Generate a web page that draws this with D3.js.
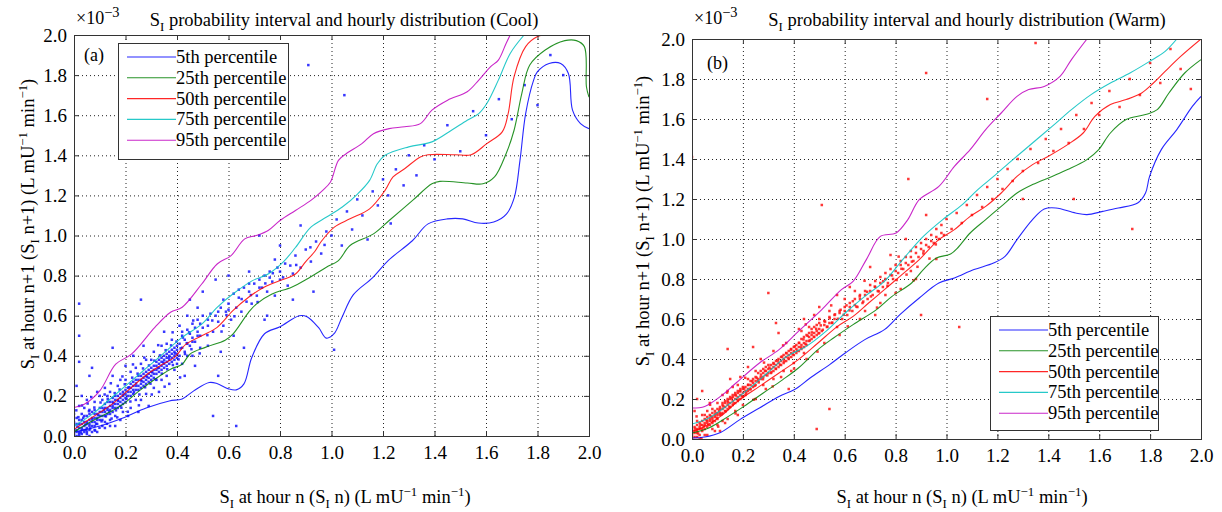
<!DOCTYPE html>
<html>
<head>
<meta charset="utf-8">
<script src="https://cdn.jsdelivr.net/npm/d3@7"></script>
<style>
  body { margin: 0; background: #fff; }
</style>
</head>
<body>
<div id="chart"></div>
<script>
// axis ticks (x10^-3)
var ticks = [0, 0.2, 0.4, 0.6, 0.8, 1.0, 1.2, 1.4, 1.6, 1.8, 2.0];
var seriesNames = ["5th percentile", "25th percentile", "50th percentile", "75th percentile", "95th percentile"];

// Cool season percentile curves [x, y]
var coolP5 = [[0,0.02],[0.10,0.05],[0.19,0.09],[0.28,0.14],[0.37,0.175],[0.42,0.185],[0.465,0.225],[0.525,0.267],[0.555,0.262],[0.60,0.235],[0.63,0.23],[0.66,0.26],[0.69,0.39],[0.74,0.51],[0.80,0.545],[0.875,0.60],[0.905,0.595],[0.95,0.54],[0.98,0.488],[1.01,0.51],[1.04,0.59],[1.085,0.705],[1.16,0.79],[1.22,0.875],[1.315,0.975],[1.375,1.058],[1.45,1.083],[1.51,1.083],[1.57,1.062],[1.63,1.067],[1.68,1.108],[1.71,1.19],[1.732,1.375],[1.754,1.608],[1.785,1.775],[1.80,1.817],[1.845,1.858],[1.89,1.858],[1.92,1.808],[1.936,1.625],[1.967,1.558],[2.0,1.533]];
var coolP25 = [[0,0.02],[0.07,0.075],[0.147,0.125],[0.19,0.158],[0.253,0.225],[0.314,0.283],[0.375,0.333],[0.42,0.358],[0.45,0.408],[0.51,0.442],[0.587,0.478],[0.617,0.508],[0.678,0.617],[0.708,0.658],[0.769,0.708],[0.845,0.742],[0.905,0.783],[0.98,0.842],[1.027,0.875],[1.072,0.95],[1.163,1.008],[1.224,1.075],[1.315,1.175],[1.39,1.258],[1.421,1.27],[1.527,1.262],[1.588,1.258],[1.633,1.292],[1.678,1.408],[1.709,1.525],[1.739,1.708],[1.77,1.85],[1.83,1.925],[1.906,1.972],[1.951,1.972],[1.982,1.942],[1.99,1.742],[2.0,1.69]];
var coolP50 = [[0,0.033],[0.07,0.092],[0.147,0.158],[0.208,0.225],[0.284,0.308],[0.344,0.358],[0.39,0.392],[0.435,0.458],[0.496,0.5],[0.556,0.542],[0.617,0.625],[0.678,0.692],[0.738,0.742],[0.80,0.775],[0.86,0.808],[0.90,0.87],[0.935,0.92],[0.96,0.97],[1.011,1.042],[1.072,1.083],[1.148,1.133],[1.208,1.225],[1.239,1.292],[1.284,1.333],[1.345,1.392],[1.375,1.403],[1.481,1.403],[1.542,1.403],[1.603,1.458],[1.663,1.517],[1.686,1.608],[1.709,1.792],[1.754,1.942],[1.80,1.992],[1.83,2.0]];
var coolP75 = [[0,0.05],[0.07,0.108],[0.147,0.192],[0.223,0.275],[0.284,0.342],[0.344,0.408],[0.42,0.492],[0.496,0.558],[0.556,0.642],[0.617,0.708],[0.693,0.775],[0.754,0.808],[0.814,0.87],[0.86,0.94],[0.92,1.042],[0.981,1.092],[1.042,1.142],[1.102,1.208],[1.148,1.275],[1.178,1.358],[1.208,1.40],[1.30,1.442],[1.39,1.467],[1.466,1.525],[1.527,1.575],[1.572,1.608],[1.603,1.658],[1.648,1.775],[1.694,1.908],[1.748,2.0]];
var coolP95 = [[0,0.142],[0.04,0.158],[0.10,0.225],[0.162,0.358],[0.223,0.408],[0.314,0.542],[0.375,0.617],[0.42,0.642],[0.496,0.758],[0.556,0.858],[0.61,0.90],[0.663,0.983],[0.708,1.0],[0.754,1.025],[0.80,1.075],[0.86,1.125],[0.92,1.175],[0.966,1.225],[0.996,1.267],[1.027,1.375],[1.057,1.408],[1.118,1.458],[1.163,1.508],[1.224,1.533],[1.284,1.542],[1.345,1.558],[1.39,1.625],[1.451,1.675],[1.527,1.717],[1.572,1.775],[1.618,1.842],[1.648,1.875],[1.678,1.958],[1.694,2.0]];

// Warm season percentile curves [x, y]
var warmP5 = [[0,0.005],[0.05,0.01],[0.112,0.033],[0.188,0.097],[0.265,0.155],[0.342,0.213],[0.403,0.247],[0.464,0.305],[0.541,0.372],[0.602,0.43],[0.679,0.497],[0.756,0.547],[0.817,0.622],[0.893,0.705],[0.97,0.78],[1.031,0.805],[1.108,0.847],[1.185,0.88],[1.23,0.913],[1.277,0.997],[1.338,1.097],[1.384,1.15],[1.43,1.155],[1.507,1.13],[1.552,1.122],[1.614,1.138],[1.675,1.155],[1.751,1.18],[1.782,1.23],[1.798,1.313],[1.844,1.447],[1.905,1.547],[1.966,1.663],[2.0,1.713]];
var warmP25 = [[0,0.03],[0.066,0.055],[0.143,0.113],[0.204,0.163],[0.28,0.23],[0.357,0.297],[0.418,0.355],[0.495,0.447],[0.556,0.505],[0.633,0.572],[0.725,0.647],[0.786,0.713],[0.863,0.78],[0.909,0.847],[0.96,0.905],[1.016,0.925],[1.047,0.96],[1.093,1.03],[1.154,1.097],[1.215,1.163],[1.277,1.23],[1.338,1.272],[1.415,1.313],[1.476,1.347],[1.552,1.397],[1.598,1.447],[1.644,1.53],[1.706,1.597],[1.782,1.622],[1.828,1.647],[1.874,1.73],[1.936,1.83],[2.0,1.897]];
var warmP50 = [[0,0.038],[0.05,0.063],[0.112,0.113],[0.188,0.197],[0.265,0.263],[0.342,0.33],[0.418,0.397],[0.495,0.48],[0.572,0.563],[0.633,0.613],[0.694,0.68],[0.756,0.747],[0.817,0.813],[0.893,0.897],[0.97,0.997],[1.031,1.047],[1.093,1.113],[1.154,1.163],[1.215,1.23],[1.277,1.313],[1.338,1.372],[1.399,1.413],[1.476,1.472],[1.537,1.53],[1.583,1.613],[1.644,1.672],[1.706,1.697],[1.767,1.73],[1.813,1.78],[1.859,1.838],[1.92,1.913],[2.0,2.0]];
var warmP75 = [[0,0.075],[0.066,0.105],[0.143,0.172],[0.219,0.247],[0.296,0.33],[0.372,0.413],[0.449,0.463],[0.526,0.538],[0.602,0.63],[0.679,0.713],[0.756,0.788],[0.817,0.88],[0.85,0.93],[0.909,1.013],[0.985,1.097],[1.062,1.172],[1.123,1.247],[1.185,1.313],[1.261,1.397],[1.338,1.48],[1.415,1.563],[1.491,1.647],[1.568,1.722],[1.644,1.78],[1.721,1.83],[1.798,1.888],[1.859,1.938],[1.905,2.0]];
var warmP95 = [[0,0.155],[0.05,0.163],[0.112,0.213],[0.173,0.28],[0.265,0.38],[0.342,0.447],[0.418,0.538],[0.51,0.647],[0.587,0.747],[0.633,0.788],[0.685,0.897],[0.74,1.013],[0.802,1.03],[0.848,1.097],[0.893,1.197],[0.97,1.263],[1.031,1.363],[1.093,1.447],[1.154,1.547],[1.215,1.63],[1.277,1.713],[1.323,1.747],[1.384,1.763],[1.446,1.813],[1.491,1.897],[1.552,2.0]];

// hourly observations (S_I n, S_I n+1)
var coolPoints = [
  [0.01,0.02],[0.02,0.01],[0.02,0.04],[0.03,0.03],[0.03,0.06],[0.04,0.02],[0.04,0.05],[0.05,0.04],[0.05,0.07],[0.05,0.10],
  [0.06,0.03],[0.06,0.06],[0.07,0.05],[0.07,0.09],[0.08,0.07],[0.08,0.11],[0.09,0.06],[0.09,0.09],[0.10,0.08],[0.10,0.12],
  [0.01,0.06],[0.02,0.08],[0.03,0.11],[0.04,0.14],[0.06,0.13],[0.07,0.02],[0.08,0.03],[0.01,0.00],[0.00,0.03],[0.00,0.07],
  [0.02,0.15],[0.05,0.18],[0.11,0.05],[0.12,0.07],[0.03,0.20],[0.00,0.11],[0.01,0.25],[0.06,0.30],[0.02,0.37],[0.02,0.66],
  [0.11,0.10],[0.11,0.14],[0.12,0.12],[0.12,0.16],[0.13,0.11],[0.13,0.14],[0.14,0.13],[0.14,0.17],[0.15,0.12],[0.15,0.15],
  [0.15,0.19],[0.16,0.14],[0.16,0.18],[0.17,0.16],[0.17,0.20],[0.18,0.15],[0.18,0.19],[0.19,0.18],[0.19,0.22],[0.20,0.17],
  [0.20,0.21],[0.13,0.20],[0.14,0.08],[0.16,0.10],[0.17,0.25],[0.18,0.28],[0.12,0.24],[0.19,0.12],[0.15,0.30],[0.10,0.20],
  [0.16,0.05],[0.20,0.35],[0.15,0.44],[0.07,0.34],[0.02,0.50],[0.26,0.68],
  [0.21,0.20],[0.21,0.24],[0.22,0.22],[0.22,0.26],[0.23,0.21],[0.23,0.25],[0.24,0.23],[0.24,0.28],[0.25,0.25],[0.25,0.30],
  [0.26,0.24],[0.26,0.28],[0.27,0.27],[0.27,0.31],[0.28,0.26],[0.28,0.30],[0.29,0.29],[0.29,0.33],[0.30,0.28],[0.30,0.32],
  [0.22,0.32],[0.24,0.18],[0.26,0.36],[0.28,0.21],[0.23,0.40],[0.29,0.15],[0.25,0.12],[0.30,0.38],[0.27,0.45],[0.21,0.10],[0.24,0.34],
  [0.31,0.31],[0.31,0.35],[0.32,0.33],[0.32,0.37],[0.33,0.32],[0.33,0.36],[0.34,0.35],[0.34,0.39],[0.35,0.34],[0.35,0.38],
  [0.36,0.37],[0.36,0.41],[0.37,0.36],[0.37,0.40],[0.38,0.39],[0.38,0.43],[0.39,0.38],[0.39,0.42],[0.40,0.41],[0.40,0.45],
  [0.32,0.28],[0.34,0.45],[0.36,0.30],[0.38,0.48],[0.33,0.22],[0.39,0.33],[0.35,0.52],[0.31,0.42],[0.37,0.26],[0.40,0.36],
  [0.41,0.40],[0.41,0.46],[0.42,0.44],[0.42,0.50],[0.43,0.42],[0.43,0.48],[0.44,0.46],[0.44,0.53],[0.45,0.45],[0.45,0.51],
  [0.46,0.49],[0.46,0.56],[0.47,0.47],[0.47,0.54],[0.48,0.52],[0.48,0.58],[0.49,0.50],[0.49,0.56],[0.50,0.54],[0.50,0.60],
  [0.42,0.36],[0.44,0.60],[0.46,0.40],[0.48,0.64],[0.43,0.30],[0.47,0.35],[0.45,0.68],[0.41,0.55],[0.49,0.44],[0.50,0.72],
  [0.52,0.55],[0.53,0.61],[0.54,0.52],[0.55,0.60],[0.56,0.57],[0.57,0.64],[0.58,0.55],[0.58,0.68],[0.59,0.62],[0.60,0.66],
  [0.61,0.58],[0.62,0.71],[0.63,0.64],[0.64,0.69],[0.65,0.62],[0.66,0.74],[0.67,0.67],[0.68,0.72],[0.69,0.66],[0.70,0.76],
  [0.52,0.45],[0.55,0.78],[0.57,0.42],[0.60,0.80],[0.62,0.50],[0.54,0.10],[0.56,0.30],[0.63,0.05],[0.66,0.44],[0.68,0.82],
  [0.71,0.70],[0.72,0.78],[0.73,0.74],[0.74,0.80],[0.75,0.72],[0.76,0.82],[0.77,0.77],[0.78,0.70],[0.79,0.84],[0.80,0.78],
  [0.82,0.86],[0.83,0.75],[0.85,0.81],[0.86,0.90],[0.88,0.84],[0.90,0.93],[0.92,0.87],[0.94,0.97],[0.96,0.91],[0.98,1.02],
  [0.75,0.60],[0.80,0.95],[0.85,0.68],[0.72,1.00],[0.88,1.05],[0.93,0.72],[1.01,0.43],[0.74,0.58],
  [1.00,1.00],[1.02,1.08],[1.04,0.95],[1.06,1.12],[1.08,1.03],[1.10,1.18],[1.12,1.10],[1.14,0.98],[1.16,1.22],[1.18,1.15],
  [1.20,1.28],[1.22,1.20],[1.25,1.33],[1.28,1.25],[1.30,1.40],[1.33,1.30],[1.36,1.45],[1.40,1.38],[1.45,1.55],[1.50,1.42],
  [1.55,1.62],[1.60,1.50],[1.65,1.68],[1.70,1.58],[1.75,1.75],[1.80,1.65],[1.85,1.90],[1.90,1.80],[0.91,1.85],[1.05,1.70],[1.23,1.06],
  [0.01,0.03],[0.02,0.02],[0.02,0.06],[0.03,0.04],[0.03,0.08],[0.04,0.03],[0.04,0.07],[0.04,0.10],[0.05,0.02],[0.05,0.06],
  [0.06,0.05],[0.06,0.08],[0.06,0.11],[0.07,0.07],[0.07,0.12],[0.08,0.05],[0.08,0.09],[0.08,0.13],[0.09,0.08],[0.09,0.11],
  [0.10,0.10],[0.10,0.14],[0.11,0.08],[0.11,0.12],[0.12,0.10],[0.12,0.14],[0.13,0.13],[0.13,0.17],[0.14,0.11],[0.14,0.15],
  [0.15,0.14],[0.15,0.17],[0.16,0.16],[0.16,0.20],[0.17,0.14],[0.17,0.18],[0.18,0.17],[0.18,0.21],[0.19,0.16],[0.19,0.20],
  [0.20,0.19],[0.20,0.23],[0.21,0.22],[0.22,0.20],[0.22,0.24],[0.23,0.23],[0.23,0.27],[0.24,0.25],[0.25,0.23],[0.25,0.28],
  [0.26,0.26],[0.26,0.30],[0.27,0.25],[0.27,0.29],[0.28,0.28],[0.28,0.32],[0.29,0.27],[0.29,0.31],[0.30,0.30],[0.30,0.34],
  [0.31,0.29],[0.31,0.33],[0.32,0.31],[0.32,0.35],[0.33,0.34],[0.33,0.38],[0.34,0.33],[0.34,0.37],[0.35,0.36],[0.35,0.40],
  [0.36,0.35],[0.36,0.39],[0.37,0.38],[0.37,0.42],[0.38,0.37],[0.38,0.41],[0.39,0.40],[0.39,0.44],[0.40,0.39],[0.40,0.43],
  [0.02,0.00],[0.03,0.01],[0.05,0.01],[0.06,0.00],[0.00,0.01],[0.00,0.05],[0.01,0.09],[0.09,0.02],[0.12,0.04],[0.14,0.05],
  [0.18,0.08],[0.08,0.17],[0.11,0.18],[0.14,0.22],[0.09,0.22],[0.22,0.14],[0.26,0.18],[0.20,0.28],[0.28,0.38],[0.34,0.28],
  [0.31,0.24],[0.36,0.46],[0.42,0.52],[0.44,0.40],[0.46,0.47],[0.48,0.50],[0.52,0.58],[0.56,0.62],[0.60,0.63],[0.64,0.73],
  [0.68,0.76],[0.72,0.74],[0.76,0.79],[0.80,0.82],[0.84,0.85],[0.78,0.88],
  [0.013,0.047],[0.027,0.018],[0.036,0.091],[0.044,0.057],[0.058,0.124],[0.063,0.038],[0.071,0.083],[0.079,0.142],[0.086,0.061],[0.094,0.105],
  [0.103,0.167],[0.107,0.073],[0.116,0.131],[0.124,0.098],[0.131,0.185],[0.137,0.122],[0.146,0.087],[0.152,0.163],[0.158,0.214],[0.163,0.128],
  [0.171,0.176],[0.177,0.232],[0.184,0.141],[0.192,0.207],[0.197,0.258],[0.204,0.186],[0.213,0.243],[0.219,0.172],[0.226,0.291],[0.233,0.218],
  [0.241,0.262],[0.247,0.311],[0.254,0.207],[0.262,0.274],[0.268,0.337],[0.276,0.243],[0.283,0.296],[0.291,0.352],[0.297,0.261],[0.304,0.318],
  [0.312,0.376],[0.318,0.282],[0.326,0.339],[0.334,0.402],[0.341,0.311],[0.347,0.367],[0.356,0.428],[0.362,0.333],[0.369,0.391],[0.377,0.452],
  [0.384,0.354],[0.392,0.412],[0.398,0.471],[0.406,0.382],[0.414,0.437],[0.423,0.491],[0.431,0.409],[0.438,0.463],[0.447,0.517],[0.456,0.433],
  [0.009,0.128],[0.017,0.094],[0.031,0.152],[0.048,0.031],[0.053,0.162],[0.067,0.194],[0.082,0.027],[0.099,0.041],[0.119,0.207],[0.128,0.061],
  [0.143,0.263],[0.168,0.093],[0.188,0.297],[0.209,0.121],[0.229,0.357],[0.252,0.153],[0.273,0.391],[0.302,0.207],[0.327,0.453],[0.352,0.246],
  [0.383,0.517],[0.412,0.292],[0.463,0.576],[0.488,0.412],[0.518,0.503],[0.537,0.576],[0.573,0.521],[0.592,0.603],[0.623,0.597],[0.651,0.683],
  [0.687,0.703],[0.713,0.668],[0.743,0.761],[0.772,0.812],[0.812,0.791],[0.863,0.853],[0.918,0.941],[0.973,0.953]
];
var warmPoints = [
  [0.00,0.02],[0.01,0.04],[0.01,0.01],[0.02,0.05],[0.02,0.03],[0.03,0.06],[0.03,0.02],[0.04,0.07],[0.04,0.04],[0.05,0.08],
  [0.05,0.05],[0.06,0.09],[0.06,0.06],[0.07,0.10],[0.07,0.07],[0.08,0.11],[0.08,0.08],[0.09,0.12],[0.09,0.09],[0.10,0.13],
  [0.10,0.10],[0.02,0.09],[0.05,0.12],[0.08,0.15],[0.03,0.00],[0.06,0.02],[0.01,0.14],[0.09,0.04],[0.04,0.24],[0.07,0.18],
  [0.10,0.07],[0.02,0.20],
  [0.11,0.12],[0.11,0.15],[0.12,0.13],[0.12,0.17],[0.13,0.14],[0.13,0.18],[0.14,0.15],[0.14,0.19],[0.15,0.16],[0.15,0.20],
  [0.16,0.17],[0.16,0.21],[0.17,0.18],[0.17,0.22],[0.18,0.19],[0.18,0.23],[0.19,0.20],[0.19,0.24],[0.20,0.21],[0.20,0.25],
  [0.12,0.22],[0.14,0.10],[0.16,0.26],[0.18,0.12],[0.11,0.04],[0.15,0.30],[0.19,0.31],[0.13,0.08],[0.17,0.14],[0.20,0.17],
  [0.21,0.22],[0.21,0.26],[0.22,0.24],[0.22,0.27],[0.23,0.25],[0.23,0.29],[0.24,0.26],[0.24,0.30],[0.25,0.27],[0.25,0.31],
  [0.26,0.29],[0.26,0.33],[0.27,0.30],[0.27,0.34],[0.28,0.31],[0.28,0.35],[0.29,0.32],[0.29,0.36],[0.30,0.33],[0.30,0.37],
  [0.22,0.36],[0.25,0.20],[0.27,0.40],[0.29,0.25],[0.24,0.46],[0.30,0.73],[0.14,0.45],
  [0.31,0.33],[0.31,0.37],[0.32,0.34],[0.32,0.38],[0.33,0.35],[0.33,0.39],[0.34,0.36],[0.34,0.40],[0.35,0.37],[0.35,0.41],
  [0.36,0.38],[0.36,0.42],[0.37,0.39],[0.37,0.43],[0.38,0.40],[0.38,0.44],[0.39,0.41],[0.39,0.45],[0.40,0.42],[0.40,0.46],
  [0.32,0.44],[0.35,0.31],[0.37,0.48],[0.39,0.34],[0.34,0.53],[0.38,0.25],[0.33,0.58],
  [0.41,0.43],[0.41,0.47],[0.42,0.44],[0.42,0.48],[0.43,0.45],[0.43,0.50],[0.44,0.46],[0.44,0.51],[0.45,0.47],[0.45,0.52],
  [0.46,0.49],[0.46,0.53],[0.47,0.50],[0.47,0.55],[0.48,0.51],[0.48,0.56],[0.49,0.52],[0.49,0.57],[0.50,0.53],[0.50,0.58],
  [0.51,0.54],[0.52,0.59],[0.53,0.56],[0.54,0.61],[0.55,0.58],[0.42,0.55],[0.45,0.40],[0.48,0.62],[0.52,0.48],[0.50,0.66],
  [0.44,0.60],[0.49,0.05],[0.54,0.15],
  [0.56,0.60],[0.57,0.56],[0.58,0.63],[0.59,0.60],[0.60,0.66],[0.61,0.62],[0.62,0.68],[0.63,0.64],[0.64,0.70],[0.65,0.66],
  [0.66,0.72],[0.67,0.68],[0.68,0.74],[0.69,0.70],[0.70,0.77],[0.71,0.72],[0.72,0.79],[0.73,0.74],[0.74,0.81],[0.75,0.76],
  [0.76,0.83],[0.77,0.78],[0.78,0.85],[0.79,0.80],[0.80,0.87],[0.58,0.52],[0.62,0.76],[0.66,0.60],[0.70,0.86],[0.74,0.68],
  [0.78,0.92],[0.80,0.73],[0.57,0.72],[0.72,0.62],
  [0.81,0.83],[0.82,0.89],[0.83,0.85],[0.84,0.91],[0.85,0.87],[0.86,0.94],[0.87,0.89],[0.88,0.96],[0.89,0.91],[0.90,0.98],
  [0.91,0.94],[0.92,1.00],[0.93,0.96],[0.94,1.02],[0.95,0.98],[0.96,1.05],[0.97,1.00],[0.98,1.07],[0.99,1.02],[1.00,1.10],
  [0.84,1.00],[0.88,0.80],[0.92,1.12],[0.96,0.90],[0.90,0.62],[0.85,1.30],[0.82,0.75],[1.05,0.56],
  [1.02,1.05],[1.04,1.13],[1.06,1.08],[1.08,1.17],[1.10,1.12],[1.12,1.22],[1.14,1.16],[1.16,1.26],[1.18,1.20],[1.20,1.30],
  [1.22,1.25],[1.24,1.35],[1.26,1.29],[1.28,1.40],[1.30,1.34],[1.33,1.45],[1.36,1.38],[1.39,1.50],[1.42,1.44],[1.45,1.55],
  [1.48,1.48],[1.51,1.62],[1.54,1.55],[1.57,1.68],[1.60,1.62],[1.64,1.74],[1.68,1.66],[1.72,1.80],[1.76,1.72],[1.80,1.88],
  [1.84,1.78],[1.88,1.95],[1.92,1.85],[1.96,1.75],[1.30,1.20],[1.50,1.20],
  [0.00,1.41],[0.51,1.17],[0.92,1.83],[1.35,1.98],[1.16,1.70],[1.73,1.05],
  [0.01,0.03],[0.01,0.06],[0.02,0.04],[0.02,0.07],[0.03,0.05],[0.03,0.08],[0.04,0.05],[0.04,0.09],[0.05,0.07],[0.05,0.10],
  [0.06,0.08],[0.06,0.11],[0.07,0.09],[0.07,0.12],[0.08,0.10],[0.08,0.13],[0.09,0.11],[0.09,0.14],[0.10,0.12],[0.10,0.15],
  [0.11,0.13],[0.11,0.16],[0.12,0.15],[0.12,0.18],[0.13,0.16],[0.13,0.19],[0.14,0.17],[0.14,0.20],[0.15,0.18],[0.15,0.21],
  [0.16,0.19],[0.16,0.22],[0.17,0.20],[0.17,0.23],[0.18,0.21],[0.18,0.24],[0.19,0.22],[0.19,0.25],[0.20,0.23],[0.20,0.26],
  [0.21,0.24],[0.22,0.25],[0.23,0.27],[0.24,0.28],[0.25,0.29],[0.26,0.30],[0.27,0.31],[0.28,0.33],[0.29,0.34],[0.30,0.35],
  [0.31,0.35],[0.32,0.36],[0.33,0.37],[0.34,0.38],[0.35,0.39],[0.36,0.40],[0.37,0.41],[0.38,0.42],[0.39,0.43],[0.40,0.44],
  [0.41,0.45],[0.42,0.46],[0.43,0.47],[0.44,0.48],[0.45,0.49],[0.46,0.51],[0.47,0.52],[0.48,0.53],[0.49,0.54],[0.50,0.55],
  [0.52,0.57],[0.54,0.58],[0.56,0.62],[0.58,0.64],[0.60,0.64],[0.62,0.66],[0.64,0.67],[0.66,0.70],[0.68,0.72],[0.70,0.74],
  [0.72,0.76],[0.74,0.78],[0.76,0.80],[0.78,0.82],[0.80,0.84],[0.82,0.87],[0.84,0.88],[0.86,0.91],[0.88,0.93],[0.90,0.95],
  [0.92,0.97],[0.94,0.99],[0.96,1.01],[0.98,1.03],[0.00,0.05],[0.00,0.00],[0.02,0.01],[0.05,0.02],[0.08,0.05],[0.12,0.09],
  [0.06,0.14],[0.10,0.18],[0.04,0.12],[0.14,0.24],[0.18,0.27],[0.22,0.30],[0.25,0.34],[0.28,0.27],[0.32,0.30],[0.36,0.34],
  [0.40,0.38],[0.44,0.43],[0.46,0.56],[0.50,0.60],[0.54,0.64],[0.43,0.54],[0.60,0.70],[0.64,0.74],[0.68,0.64],[0.76,0.72],[0.86,0.84],
  [0.012,0.052],[0.024,0.028],[0.033,0.071],[0.046,0.063],[0.057,0.094],[0.064,0.071],[0.073,0.113],[0.081,0.089],[0.092,0.128],[0.098,0.106],
  [0.107,0.141],[0.116,0.124],[0.123,0.163],[0.132,0.139],[0.141,0.182],[0.147,0.161],[0.156,0.203],[0.163,0.178],[0.172,0.218],[0.181,0.197],
  [0.188,0.238],[0.196,0.214],[0.205,0.252],[0.213,0.231],[0.221,0.271],[0.229,0.248],[0.237,0.289],[0.246,0.266],[0.254,0.306],[0.262,0.283],
  [0.271,0.322],[0.279,0.299],[0.287,0.341],[0.296,0.318],[0.304,0.357],[0.312,0.334],[0.321,0.376],[0.329,0.352],[0.337,0.392],[0.346,0.371],
  [0.354,0.412],[0.362,0.388],[0.371,0.429],[0.379,0.406],[0.388,0.447],[0.396,0.423],[0.404,0.463],[0.413,0.441],[0.421,0.481],[0.429,0.458],
  [0.438,0.498],[0.446,0.476],[0.454,0.516],[0.463,0.493],[0.471,0.533],[0.479,0.511],[0.488,0.551],[0.497,0.528],[0.506,0.568],[0.514,0.546],
  [0.523,0.587],[0.532,0.562],[0.541,0.603],[0.551,0.582],[0.562,0.623],[0.573,0.601],[0.584,0.646],[0.596,0.621],[0.607,0.668],[0.619,0.643],
  [0.632,0.689],[0.646,0.662],[0.659,0.713],[0.673,0.687],[0.688,0.736],[0.703,0.713],[0.718,0.762],[0.734,0.738],[0.751,0.789],[0.768,0.766],
  [0.786,0.818],[0.804,0.795],[0.823,0.851],[0.843,0.822],[0.864,0.887],[0.886,0.861],[0.909,0.928],[0.933,0.902],[0.958,0.973],[0.018,0.113],
  [0.037,0.003],[0.071,0.171],[0.103,0.062],[0.138,0.232],[0.171,0.128],[0.209,0.306],[0.243,0.197],[0.283,0.382],[0.317,0.263],[0.358,0.468],
  [0.401,0.352],[0.447,0.573],[0.493,0.437],[0.547,0.668],[0.612,0.563],[0.678,0.791],[0.727,0.657],[0.812,0.912],[0.871,0.793]
];

var colors = ["#0000ff", "#008000", "#ff0000", "#00bfbf", "#bf00bf"];
var fontFamily = "Liberation Serif";

var panels = [
  {
    id: "a", tag: "(a)", season: "Cool",
    curves: [coolP5, coolP25, coolP50, coolP75, coolP95],
    points: coolPoints, dotColor: "#1414ff",
    left: 74, right: 589, top: 35, bottom: 436,
    titleX: 344, xLabelX: 345, yLabelX: 28, yLabelY: 224,
    tagPos: [84, 61],
    legend: { x: 118, y: 43, w: 170, h: 116 }
  },
  {
    id: "b", tag: "(b)", season: "Warm",
    curves: [warmP5, warmP25, warmP50, warmP75, warmP95],
    points: warmPoints, dotColor: "#ff1414",
    left: 692, right: 1201, top: 39, bottom: 439,
    titleX: 967, xLabelX: 962, yLabelX: 643, yLabelY: 221,
    tagPos: [707, 69],
    legend: { x: 990, y: 316, w: 168, h: 114 }
  }
];

var svg = d3.select("#chart").append("svg")
  .attr("width", 1222)
  .attr("height", 512)
  .attr("font-family", fontFamily);

// text with sub/superscripts: parts = [[string, shift]] shift: 0 normal, 1 sub, -1 sup
function richText(sel, parts, size, supScale) {
  sel.attr("font-family", fontFamily).attr("font-size", size);
  var cur = 0;
  parts.forEach(function(p) {
    var shift = p[1] || 0;
    var off = shift == 1 ? size * 0.28 : (shift == -1 ? -size * 0.4 : 0);
    var ts = sel.append("tspan").text(p[0]).attr("dy", (off - cur).toFixed(2));
    if (shift != 0) ts.attr("font-size", (size * (supScale || 0.7)).toFixed(1));
    cur = off;
  });
}

panels.forEach(function(p) {
  var x = d3.scaleLinear().domain([0, 2]).range([p.left, p.right]);
  var y = d3.scaleLinear().domain([0, 2]).range([p.bottom, p.top]);
  var g = svg.append("g").attr("class", "panel-" + p.id);

  g.append("clipPath").attr("id", "clip-" + p.id)
    .append("rect")
    .attr("x", p.left).attr("y", p.top)
    .attr("width", p.right - p.left).attr("height", p.bottom - p.top);

  // dotted grid
  var inner = ticks.slice(1, -1);
  g.selectAll(".gx").data(inner).enter().append("line")
    .attr("x1", function(d) { return x(d) + 0.5; })
    .attr("x2", function(d) { return x(d) + 0.5; })
    .attr("y1", p.top).attr("y2", p.bottom)
    .attr("stroke", "#222").attr("stroke-width", 1).attr("stroke-dasharray", "1,3");
  g.selectAll(".gy").data(inner).enter().append("line")
    .attr("y1", function(d) { return y(d) + 0.5; })
    .attr("y2", function(d) { return y(d) + 0.5; })
    .attr("x1", p.left).attr("x2", p.right)
    .attr("stroke", "#222").attr("stroke-width", 1).attr("stroke-dasharray", "1,3");

  // scatter
  g.append("g").attr("clip-path", "url(#clip-" + p.id + ")")
    .selectAll("rect").data(p.points).enter().append("rect")
    .attr("x", function(d) { return x(d[0]) - 1.25; })
    .attr("y", function(d) { return y(d[1]) - 1.25; })
    .attr("width", 2.5).attr("height", 2.5)
    .attr("fill", p.dotColor).attr("fill-opacity", 0.85);

  // percentile curves
  var line = d3.line()
    .x(function(d) { return x(d[0]); })
    .y(function(d) { return y(d[1]); })
    .curve(d3.curveCatmullRom.alpha(0.5));
  g.append("g").attr("clip-path", "url(#clip-" + p.id + ")")
    .selectAll("path").data(p.curves).enter().append("path")
    .attr("d", line)
    .attr("fill", "none")
    .attr("stroke", function(d, i) { return colors[i]; })
    .attr("stroke-width", 1.1)
    .attr("stroke-opacity", 0.85);

  // axes with inward ticks, MATLAB style
  var fmt = d3.format(".1f");
  var xb = g.append("g").attr("transform", "translate(0," + p.bottom + ")")
    .call(d3.axisBottom(x).tickValues(ticks).tickFormat(fmt).tickSizeInner(-5).tickSizeOuter(0).tickPadding(10));
  var xt = g.append("g").attr("transform", "translate(0," + p.top + ")")
    .call(d3.axisTop(x).tickValues(ticks).tickFormat("").tickSizeInner(-5).tickSizeOuter(0));
  var yl = g.append("g").attr("transform", "translate(" + p.left + ",0)")
    .call(d3.axisLeft(y).tickValues(ticks).tickFormat(fmt).tickSizeInner(-5).tickSizeOuter(0).tickPadding(7));
  var yr = g.append("g").attr("transform", "translate(" + p.right + ",0)")
    .call(d3.axisRight(y).tickValues(ticks).tickFormat("").tickSizeInner(-5).tickSizeOuter(0));
  [xb, xt, yl, yr].forEach(function(a) {
    a.attr("font-family", fontFamily).attr("font-size", 19);
    a.select(".domain").remove();
    a.selectAll("line").attr("stroke", "#333");
    a.selectAll("text").attr("fill", "#000");
  });

  // frame
  g.append("rect")
    .attr("x", p.left + 0.5).attr("y", p.top + 0.5)
    .attr("width", p.right - p.left).attr("height", p.bottom - p.top)
    .attr("fill", "none").attr("stroke", "#333").attr("stroke-width", 1);

  // scale factor and title
  var sf = g.append("text").attr("x", p.left + 2).attr("y", 24);
  richText(sf, [["\u00d710"], ["\u22123", -1]], 18, 0.8);

  var title = g.append("text").attr("x", p.titleX).attr("y", 26).attr("text-anchor", "middle");
  richText(title, [["S"], ["I", 1], [" probability interval and hourly distribution (" + p.season + ")"]], 18.5);

  // panel tag
  g.append("text").attr("x", p.tagPos[0]).attr("y", p.tagPos[1])
    .attr("font-size", 18).text(p.tag);

  // axis labels
  var xl = g.append("text").attr("x", p.xLabelX).attr("y", 503).attr("text-anchor", "middle");
  richText(xl, [["S"], ["I", 1], [" at hour n (S"], ["I", 1], [" n) (L mU"], ["\u22121", -1], [" min"], ["\u22121", -1], [")"]], 18.5);

  var ylab = g.append("text")
    .attr("transform", "translate(" + (p.yLabelX + 6) + "," + p.yLabelY + ") rotate(-90)")
    .attr("text-anchor", "middle");
  richText(ylab, [["S"], ["I", 1], [" at hour n+1 (S"], ["I", 1], [" n+1) (L mU"], ["\u22121", -1], [" min"], ["\u22121", -1], [")"]], 18.5);

  // legend
  var L = p.legend;
  var lg = g.append("g").attr("transform", "translate(" + L.x + "," + L.y + ")");
  lg.append("rect").attr("x", 0.5).attr("y", 0.5).attr("width", L.w).attr("height", L.h)
    .attr("fill", "#fff").attr("stroke", "#333");
  var item = lg.selectAll(".item").data(seriesNames).enter().append("g")
    .attr("transform", function(d, i) { return "translate(0," + (14 + i * 20.8) + ")"; });
  item.append("line")
    .attr("x1", 9).attr("x2", 58).attr("y1", 0).attr("y2", 0)
    .attr("stroke", function(d, i) { return colors[i]; })
    .attr("stroke-width", 1.1).attr("stroke-opacity", 0.85);
  item.append("text").attr("x", 58).attr("y", 6)
    .attr("font-size", 18.5)
    .text(function(d) { return d; });
});
</script>
</body>
</html>
